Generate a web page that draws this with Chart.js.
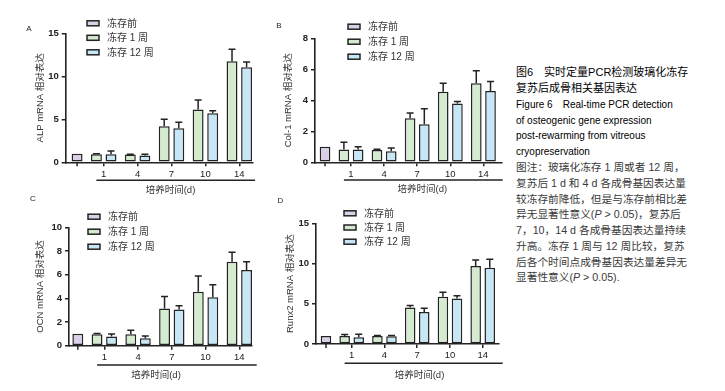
<!DOCTYPE html>
<html><head><meta charset="utf-8">
<script src="https://cdn.jsdelivr.net/npm/chart.js@4"></script>
<style>
html,body{margin:0;padding:0;background:#fff;}
body{width:725px;height:391px;position:relative;overflow:hidden;font-family:"Liberation Sans","Noto Sans CJK SC",sans-serif;}
canvas{position:absolute;}
.lbl{position:absolute;font-size:8px;color:#222;transform:translate(-50%,-50%);line-height:1;}
.xt{position:absolute;font-size:9.5px;color:#333;transform:translate(-50%,-50%);white-space:nowrap;line-height:1;}
#cap{position:absolute;left:516px;top:65.4px;line-height:15.77px;white-space:pre;}
#cap .t{font-size:11px;color:#000;}
#cap .e{font-size:10px;color:#000;}
#cap .b{font-size:10.7px;color:#3a3a3a;}
</style></head>
<body>
<canvas id="cA" width="262" height="200" style="left:0px;top:0px;width:262px;height:200px"></canvas>
<canvas id="cB" width="250" height="200" style="left:262px;top:0px;width:250px;height:200px"></canvas>
<canvas id="cC" width="262" height="196" style="left:0px;top:195px;width:262px;height:196px"></canvas>
<canvas id="cD" width="250" height="196" style="left:262px;top:195px;width:250px;height:196px"></canvas>

<div class="lbl" style="left:29px;top:28.5px">A</div>
<div class="lbl" style="left:279px;top:26px">B</div>
<div class="lbl" style="left:33px;top:199px">C</div>
<div class="lbl" style="left:280.5px;top:200.5px">D</div>

<div class="xt" style="left:170.5px;top:190px">培养时间(d)</div>
<div class="xt" style="left:422.3px;top:189.3px">培养时间(d)</div>
<div class="xt" style="left:156px;top:375px">培养时间(d)</div>
<div class="xt" style="left:419.5px;top:375px">培养时间(d)</div>

<div id="cap"><div class="t">图6　实时定量PCR检测玻璃化冻存</div><div class="t">复苏后成骨相关基因表达</div><div class="e">Figure 6　Real-time PCR detection</div><div class="e">of osteogenic gene expression</div><div class="e">post-rewarming from vitreous</div><div class="e">cryopreservation</div><div class="b">图注：玻璃化冻存 1 周或者 12 周，</div><div class="b">复苏后 1 d 和 4 d 各成骨基因表达量</div><div class="b">较冻存前降低，但是与冻存前相比差</div><div class="b">异无显著性意义(<i>P</i> &gt; 0.05)，复苏后</div><div class="b">7，10，14 d 各成骨基因表达量持续</div><div class="b">升高。冻存 1 周与 12 周比较，复苏</div><div class="b">后各个时间点成骨基因表达量差异无</div><div class="b">显著性意义(<i>P</i> &gt; 0.05).</div></div>

<script>
// ---- data ----
const tickLabels = ['', '1', '4', '7', '10', '14'];
const seriesNames = ['冻存前', '冻存 1 周', '冻存 12 周'];

const alpPre = [1.0];
const alpW1 = [0.95, 0.9, 4.2, 6.15, 11.75];
const alpW1Err = [0.05, 0.05, 0.8, 1.1, 1.4];
const alpW12 = [0.95, 0.8, 3.95, 5.7, 11.05];
const alpW12Err = [0.35, 0.15, 0.7, 0.3, 0.6];

const colPre = [1.0];
const colW1 = [0.82, 0.8, 2.85, 4.55, 5.1];
const colW1Err = [0.48, 0.05, 0.33, 0.55, 0.8];
const colW12 = [0.82, 0.72, 2.45, 3.8, 4.6];
const colW12Err = [0.18, 0.2, 1.0, 0.12, 0.62];

const ocnPre = [1.0];
const ocnW1 = [0.97, 0.97, 3.15, 4.55, 7.1];
const ocnW1Err = [0.06, 0.33, 1.0, 1.33, 0.8];
const ocnW12 = [0.78, 0.62, 3.05, 4.1, 6.4];
const ocnW12Err = [0.2, 0.2, 0.32, 1.05, 0.7];

const runPre = [1.0];
const runW1 = [0.98, 0.98, 4.55, 5.88, 9.7];
const runW1Err = [0.2, 0.07, 0.25, 0.54, 0.74];
const runW12 = [0.85, 0.95, 3.98, 5.67, 9.48];
const runW12Err = [0.37, 0.12, 0.45, 0.33, 1.04];

// ---- styles ----
const FAM = '"Liberation Sans","Noto Sans CJK SC",sans-serif';
const fills = ['#dad1e8', '#d4ebd0', '#c7e7f7'];
const INK = '#232323';

const extras = {
  id: 'extras',
  afterDatasetsDraw(chart, args, o) {
    const ctx = chart.ctx, y = chart.scales.y;
    ctx.save();
    ctx.strokeStyle = INK; ctx.lineWidth = 1.5;
    chart.data.datasets.forEach((ds, di) => {
      if (!ds.err) return;
      const meta = chart.getDatasetMeta(di);
      meta.data.forEach((bar, i) => {
        const e = ds.err[i];
        if (!e) return;
        const yt = y.getPixelForValue(ds.data[i].y + e);
        ctx.beginPath();
        ctx.moveTo(bar.x, bar.y); ctx.lineTo(bar.x, yt);
        ctx.moveTo(bar.x - 3.5, yt); ctx.lineTo(bar.x + 3.5, yt);
        ctx.stroke();
      });
    });
    ctx.restore();
  },
  afterDraw(chart, args, o) {
    const ctx = chart.ctx, a = chart.chartArea;
    ctx.save();
    ctx.strokeStyle = INK; ctx.lineWidth = 1.5;
    // tick under the control bar
    const preBar = chart.getDatasetMeta(0).data[0];
    ctx.beginPath(); ctx.moveTo(preBar.x, a.bottom); ctx.lineTo(preBar.x, a.bottom + 4); ctx.stroke();
    // bracket line under the culture days
    const firstBar = chart.getDatasetMeta(1).data[0];
    const by = a.bottom + o.bracketDy;
    ctx.beginPath(); ctx.moveTo(firstBar.x, by); ctx.lineTo(o.bracketR, by); ctx.stroke();
    // legend
    ctx.font = '10px ' + FAM;
    ctx.textBaseline = 'middle';
    chart.data.datasets.forEach((ds, i) => {
      const cy = o.legY + i * o.legGap;
      ctx.fillStyle = ds.backgroundColor;
      ctx.fillRect(o.legX, cy - 2.5, 12, 5);
      ctx.strokeRect(o.legX, cy - 2.5, 12, 5);
      ctx.fillStyle = '#333';
      ctx.fillText(ds.label, o.legX + 20, cy + 0.5);
    });
    ctx.restore();
  }
};

function makePanel(p) {
  const cv = document.getElementById(p.id);
  const pts = (arr, off) => arr.map((v, i) => ({x: i + off, y: v}));
  new Chart(cv, {
    type: 'bar',
    plugins: [extras],
    data: {
      datasets: [
        {label: seriesNames[0], data: pts(p.pre, 0), backgroundColor: fills[0], stack: 'b', order: 1},
        {label: seriesNames[1], data: pts(p.w1, 1), err: p.w1Err, backgroundColor: fills[1], stack: 'a', order: 0},
        {label: seriesNames[2], data: pts(p.w12, 1), err: p.w12Err, backgroundColor: fills[2], stack: 'b', order: 0}
      ]
    },
    options: {
      responsive: false,
      animation: false,
      events: [],
      layout: {padding: {left: 0, top: p.area.t - p.top, right: p.left + p.w - p.area.r, bottom: 0}},
      datasets: {bar: {categoryPercentage: 0.86, barPercentage: 0.75, borderWidth: 1.5, borderColor: INK, borderSkipped: false}},
      plugins: {
        legend: {display: false},
        tooltip: {enabled: false},
        extras: {
          bracketDy: p.bracketDy,
          bracketR: p.bracketR - p.left,
          legX: p.leg.x - p.left, legY: p.leg.y - p.top, legGap: p.leg.gap
        }
      },
      scales: {
        x: {
          type: 'linear', min: p.xMin, max: p.xMax, offset: false,
          afterBuildTicks: s => { s.ticks = tickLabels.map((_, i) => ({value: i})); },
          afterFit: s => { s.height = p.top + p.h - p.area.b; },
          grid: {display: true, offset: false, drawOnChartArea: false, drawTicks: true, tickLength: 4,
                 lineWidth: 1.5, tickWidth: 1.5,
                 tickColor: c => c.index === 0 ? 'rgba(0,0,0,0)' : INK},
          border: {display: true, color: INK, width: 1.6},
          ticks: {autoSkip: false, maxRotation: 0, padding: 2, color: '#222',
                  font: {size: 9.5, family: FAM},
                  callback: v => tickLabels[Math.round(v)] ?? ''}
        },
        y: {
          type: 'linear', min: 0, max: p.yMax, stacked: false,
          afterFit: s => { s.width = p.area.l - p.left; },
          grid: {display: true, drawOnChartArea: false, drawTicks: true, tickLength: 4,
                 lineWidth: 1.5, tickWidth: 1.5, tickColor: INK},
          border: {display: true, color: INK, width: 1.6},
          ticks: {stepSize: p.yStep, padding: 3, color: '#222', font: {size: 9.5, weight: 'bold', family: FAM}},
          title: {display: true, text: p.yTitle, color: '#333', font: {size: 9.5, family: FAM},
                  padding: {top: p.yTitleX - p.left - 5.7, bottom: 0}}
        }
      }
    }
  });
}

makePanel({id: 'cA', left: 0, top: 0, w: 262, h: 200, area: {l: 65.7, r: 253, t: 33.3, b: 162.3},
  yMax: 15, yStep: 5, yTitle: 'ALP mRNA 相对表达', yTitleX: 40, xMin: -0.121, xMax: 5.404,
  leg: {x: 87, y: 23.3, gap: 14.5}, bracketDy: 18, bracketR: 255,
  pre: alpPre, w1: alpW1, w1Err: alpW1Err, w12: alpW12, w12Err: alpW12Err});
makePanel({id: 'cB', left: 262, top: 0, w: 250, h: 200, area: {l: 315, r: 501.7, t: 38.3, b: 162.3},
  yMax: 8, yStep: 2, yTitle: 'Col-1 mRNA 相对表达', yTitleX: 288.3, xMin: -0.088, xMax: 5.553,
  leg: {x: 348, y: 26.7, gap: 15}, bracketDy: 17.7, bracketR: 502.7,
  pre: colPre, w1: colW1, w1Err: colW1Err, w12: colW12, w12Err: colW12Err});
makePanel({id: 'cC', left: 0, top: 195, w: 262, h: 196, area: {l: 69, r: 252, t: 227.3, b: 345.7},
  yMax: 10, yStep: 2, yTitle: 'OCN mRNA 相对表达', yTitleX: 40, xMin: -0.046, xMax: 5.376,
  leg: {x: 88, y: 216.7, gap: 15}, bracketDy: 19.3, bracketR: 256.7,
  pre: ocnPre, w1: ocnW1, w1Err: ocnW1Err, w12: ocnW12, w12Err: ocnW12Err});
makePanel({id: 'cD', left: 262, top: 195, w: 250, h: 196, area: {l: 316, r: 498.3, t: 223.3, b: 344},
  yMax: 15, yStep: 5, yTitle: 'Runx2 mRNA 相对表达', yTitleX: 290, xMin: -0.09, xMax: 5.476,
  leg: {x: 344, y: 213.3, gap: 14.2}, bracketDy: 19.3, bracketR: 502.7,
  pre: runPre, w1: runW1, w1Err: runW1Err, w12: runW12, w12Err: runW12Err});
</script>
</body></html>
